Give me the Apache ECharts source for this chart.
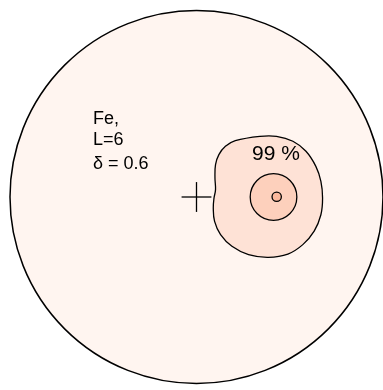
<!DOCTYPE html>
<html lang="en">
<head>
    <meta charset="UTF-8">
    <title>Fe L=6</title>
    <script src="https://cdn.jsdelivr.net/npm/echarts@6/dist/echarts.min.js"></script>
    <style>
        html, body { margin: 0; padding: 0; background: #fff; }
    </style>
</head>
<body>
<div id="main" style="width:383px;height:390px"></div>
<script>
    // disk coordinates: unit disk, centre at (0, 0)
    const disk = [[0, 0, 1]];               // [x, y, r]
    // 99 % contour outline
    const contour99 = [
        [0.340, 0.321], [0.208, 0.298], [0.155, 0.268], [0.120, 0.224],
        [0.102, 0.171], [0.099, 0.101], [0.102, 0.039], [0.094, -0.005],
        [0.090, -0.058], [0.097, -0.129], [0.129, -0.199], [0.190, -0.261],
        [0.279, -0.305], [0.385, -0.319], [0.490, -0.302], [0.570, -0.252],
        [0.631, -0.181], [0.667, -0.094], [0.676, -0.005], [0.667, 0.083],
        [0.640, 0.162], [0.587, 0.242], [0.517, 0.295], [0.429, 0.321]
    ];
    const innerContour = [[0.413, 0, 0.125]];
    const coreContour = [[0.43, 0.001, 0.025]];
    const centreMark = [[0, 0, 0.08]];      // [x, y, half size]
    const infoLines = ['Fe,', 'L=6', 'δ = 0.6'];
    const contourLabel = '99 %';

    const chart = echarts.init(document.getElementById('main'));

    function circleItem(fill, lw) {
        return function (params, api) {
            const c = api.coord([api.value(0), api.value(1)]);
            const r = api.size([api.value(2), 0])[0];
            return {
                type: 'circle',
                shape: { cx: c[0], cy: c[1], r: r },
                style: { fill: fill, stroke: '#000', lineWidth: lw }
            };
        };
    }

    const font = '"Liberation Sans", Arial, sans-serif';

    const option = {
        animation: false,
        grid: { left: 10, top: 8, width: 378, height: 378 },
        xAxis: { type: 'value', min: -1, max: 1, show: false },
        yAxis: { type: 'value', min: -1, max: 1, show: false },
        series: [
            {
                type: 'custom', clip: false, silent: true,
                data: disk,
                renderItem: circleItem('#fff5f0', 1.5)
            },
            {
                type: 'custom', clip: false, silent: true,
                data: contour99,
                renderItem: function (params, api) {
                    if (params.dataIndex !== 0) return null;
                    const pts = contour99.map(function (p) { return api.coord(p); });
                    return {
                        type: 'polygon',
                        shape: { points: pts, smooth: 0.4 },
                        style: { fill: '#fee2d6', stroke: '#000', lineWidth: 1.3 }
                    };
                }
            },
            {
                type: 'custom', clip: false, silent: true,
                data: innerContour,
                renderItem: circleItem('#fdd0bc', 1.3)
            },
            {
                type: 'custom', clip: false, silent: true,
                data: coreContour,
                renderItem: circleItem('#fbb89c', 1.3)
            },
            {
                type: 'custom', clip: false, silent: true,
                data: centreMark,
                renderItem: function (params, api) {
                    const c = api.coord([api.value(0), api.value(1)]);
                    const h = api.size([api.value(2), 0])[0];
                    return {
                        type: 'group',
                        children: [
                            { type: 'line', shape: { x1: c[0] - h, y1: c[1], x2: c[0] + h, y2: c[1] },
                              style: { stroke: '#000', lineWidth: 1.3 } },
                            { type: 'line', shape: { x1: c[0], y1: c[1] - h, x2: c[0], y2: c[1] + h },
                              style: { stroke: '#000', lineWidth: 1.3 } }
                        ]
                    };
                }
            }
        ],
        graphic: [
            { type: 'text', z: 100, left: 93, top: 110, style: { text: infoLines[0], font: '18px ' + font, fill: '#000' } },
            { type: 'text', z: 100, left: 93, top: 131, style: { text: infoLines[1], font: '18px ' + font, fill: '#000' } },
            { type: 'text', z: 100, left: 93, top: 155, style: { text: infoLines[2], font: '18px ' + font, fill: '#000' } },
            { type: 'text', z: 100, left: 252, top: 144, style: { text: contourLabel, font: '21px ' + font, fill: '#000' } }
        ]
    };
    chart.setOption(option);
</script>
</body>
</html>
